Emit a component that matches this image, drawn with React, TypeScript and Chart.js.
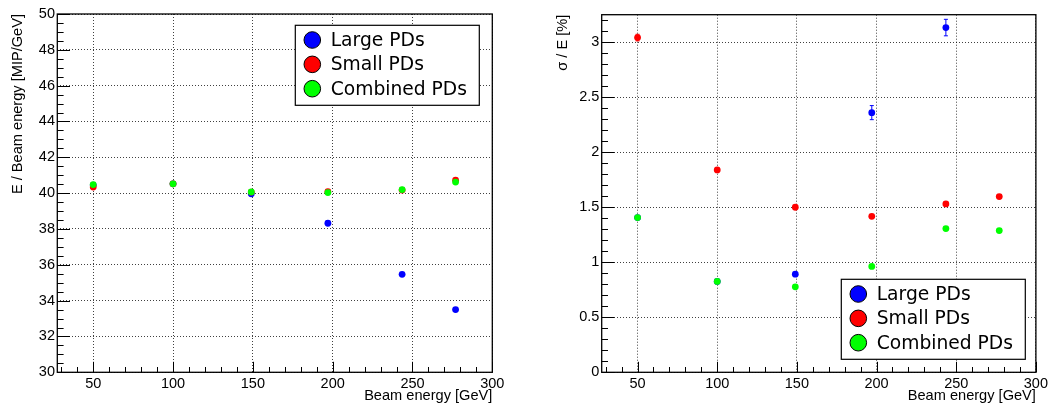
import React, { useEffect, useRef } from "react";
import { Chart, registerables } from "chart.js";

Chart.register(...registerables);

// ---------------- data ----------------
const beamEnergy = [50, 100, 149, 197, 243.5, 277];
const seriesLabels = ["Large PDs", "Small PDs", "Combined PDs"];
const seriesColors = ["#0000ff", "#ff0000", "#00ff00"];

// E / Beam energy [MIP/GeV]
const responseLarge = [40.45, 40.52, 39.96, 38.32, 35.47, 33.5];
const responseSmall = [40.34, 40.52, 40.06, 40.08, 40.17, 40.72];
const responseCombined = [40.48, 40.52, 40.07, 40.03, 40.2, 40.62];

// sigma / E [%]
const resolutionLarge = [1.406, 0.826, 0.892, 2.36, 3.133, null];
const resolutionLargeErr = [0, 0, 0.015, 0.064, 0.075, 0];
const resolutionSmall = [3.042, 1.839, 1.5, 1.418, 1.53, 1.597];
const resolutionSmallErr = [0.03, 0.012, 0.01, 0.01, 0.01, 0.01];
const resolutionCombined = [1.406, 0.826, 0.777, 0.962, 1.306, 1.288];
const resolutionCombinedErr = [0.01, 0.008, 0.008, 0.008, 0.008, 0.008];

const xTicks = [50, 100, 150, 200, 250, 300];
const responseTicks = [30, 32, 34, 36, 38, 40, 42, 44, 46, 48, 50];
const resolutionTicks = [0, 0.5, 1, 1.5, 2, 2.5, 3];

// ---------------- styling ----------------
const AXIS_FONT = "'Liberation Sans', Arial, sans-serif";
const LEGEND_FONT = "'DejaVu Sans', sans-serif";
const GRID_COLOR = "rgba(0,0,0,0.75)";

function points(xs: number[], ys: (number | null)[]) {
  const out: { x: number; y: number }[] = [];
  xs.forEach((x, i) => {
    const y = ys[i];
    if (y !== null && y !== undefined) out.push({ x, y });
  });
  return out;
}

const rootAxesPlugin = {
  id: "rootAxes",
  afterDraw(chart: any, _args: any, opts: any) {
    const { ctx, chartArea: a, scales } = chart;
    const xs = scales.x;
    const ys = scales.y;
    ctx.save();
    ctx.strokeStyle = "#000";
    ctx.lineWidth = 1;
    ctx.setLineDash([]);
    ctx.beginPath();
    // x ticks (inside)
    for (let i = 0; ; i++) {
      const v = opts.xStart + i * opts.xMinor;
      if (v > xs.max + 1e-9) break;
      if (v < xs.min - 1e-9) continue;
      const major = Math.abs(v / opts.xMajor - Math.round(v / opts.xMajor)) < 1e-6;
      const len = major ? opts.xMajorLen : opts.xMinorLen;
      const px = Math.round(xs.getPixelForValue(v)) + 0.5;
      ctx.moveTo(px, a.bottom);
      ctx.lineTo(px, a.bottom - len);
    }
    // y ticks (inside)
    for (let i = 0; ; i++) {
      const v = opts.yStart + i * opts.yMinor;
      if (v > ys.max + 1e-9) break;
      const major = Math.abs(v / opts.yMajor - Math.round(v / opts.yMajor)) < 1e-6;
      const len = major ? opts.yMajorLen : opts.yMinorLen;
      const py = Math.round(ys.getPixelForValue(v)) + 0.5;
      ctx.moveTo(a.left, py);
      ctx.lineTo(a.left + len, py);
    }
    ctx.stroke();
    // frame
    ctx.lineWidth = 1.3;
    ctx.strokeRect(a.left, a.top, a.right - a.left, a.bottom - a.top);
    ctx.restore();
  },
};

const errorBarPlugin = {
  id: "errorBars",
  afterDatasetDraw(chart: any, args: any) {
    const ds = chart.data.datasets[args.index];
    if (!ds.errors) return;
    const { ctx, scales } = chart;
    ctx.save();
    ctx.strokeStyle = ds.backgroundColor;
    ctx.lineWidth = 1;
    ctx.beginPath();
    ds.data.forEach((p: any, i: number) => {
      const err = ds.errors[i];
      if (!err) return;
      const px = scales.x.getPixelForValue(p.x);
      const y1 = scales.y.getPixelForValue(p.y + err);
      const y2 = scales.y.getPixelForValue(p.y - err);
      ctx.moveTo(px, y1);
      ctx.lineTo(px, y2);
      ctx.moveTo(px - 2, y1);
      ctx.lineTo(px + 2, y1);
      ctx.moveTo(px - 2, y2);
      ctx.lineTo(px + 2, y2);
    });
    ctx.stroke();
    ctx.restore();
  },
};

const boxLegendPlugin = {
  id: "boxLegend",
  afterDraw(chart: any, _args: any, opts: any) {
    const { ctx } = chart;
    const { left, top, width, height } = opts;
    ctx.save();
    ctx.fillStyle = "#fff";
    ctx.fillRect(left, top, width, height);
    ctx.strokeStyle = "#000";
    ctx.lineWidth = 1.2;
    ctx.strokeRect(left, top, width, height);
    ctx.font = `18.7px ${LEGEND_FONT}`;
    ctx.textBaseline = "middle";
    ctx.textAlign = "left";
    chart.data.datasets.forEach((ds: any, i: number) => {
      const cy = top + 14.7 + i * 24.35;
      ctx.beginPath();
      ctx.arc(left + 17, cy, 8.3, 0, Math.PI * 2);
      ctx.fillStyle = ds.backgroundColor;
      ctx.fill();
      ctx.lineWidth = 1;
      ctx.strokeStyle = "#000";
      ctx.stroke();
      ctx.fillStyle = "#000";
      ctx.fillText(ds.label, left + 35.4, cy + 1);
    });
    ctx.restore();
  },
};

function buildConfig(cfg: any) {
  const tickFont = { family: AXIS_FONT, size: 14.5 };
  const titleFont = { family: AXIS_FONT, size: 14.6 };
  const datasets = cfg.series.map((s: any, i: number) => ({
    label: seriesLabels[i],
    data: points(beamEnergy, s.values),
    errors: s.errors,
    backgroundColor: seriesColors[i],
    borderColor: seriesColors[i],
    pointRadius: 3.4,
    pointBorderWidth: 0,
    showLine: false,
    order: 3 - i,
  }));
  return {
    type: "scatter",
    data: { datasets },
    plugins: [rootAxesPlugin, errorBarPlugin, boxLegendPlugin],
    options: {
      animation: false,
      responsive: true,
      maintainAspectRatio: false,
      events: [],
      layout: { padding: cfg.padding },
      plugins: {
        legend: { display: false },
        tooltip: { enabled: false },
        rootAxes: cfg.axes,
        boxLegend: cfg.legend,
      },
      scales: {
        x: {
          type: "linear",
          min: 27.5,
          max: 300,
          afterBuildTicks: (s: any) => {
            s.ticks = xTicks.map((v) => ({ value: v }));
          },
          afterFit: (s: any) => {
            s.height = cfg.xHeight;
          },
          grid: { color: GRID_COLOR, lineWidth: 1, drawTicks: false },
          border: { display: false, dash: [1, 2] },
          ticks: {
            font: tickFont,
            color: "#000",
            padding: 3,
            maxRotation: 0,
            autoSkip: false,
            callback: (v: any) => String(v),
          },
          title: {
            display: true,
            text: "Beam energy [GeV]",
            align: "end",
            font: titleFont,
            color: "#000",
            padding: { top: 0, bottom: 2.3 },
          },
        },
        y: {
          type: "linear",
          min: cfg.yMin,
          max: cfg.yMax,
          afterBuildTicks: (s: any) => {
            s.ticks = cfg.yTicks.map((v: number) => ({ value: v }));
          },
          afterFit: (s: any) => {
            s.width = cfg.yWidth;
          },
          grid: { color: GRID_COLOR, lineWidth: 1, drawTicks: false },
          border: { display: false, dash: [1, 2] },
          ticks: {
            font: tickFont,
            color: "#000",
            padding: 2.3,
            autoSkip: false,
            callback: (v: any) => String(v),
          },
          title: {
            display: true,
            text: cfg.yTitle,
            align: "end",
            font: titleFont,
            color: "#000",
            padding: { top: cfg.yTitlePad, bottom: 0 },
          },
        },
      },
    },
  };
}

export default function App() {
  const leftRef = useRef<HTMLCanvasElement | null>(null);
  const rightRef = useRef<HTMLCanvasElement | null>(null);

  useEffect(() => {
    const left = new Chart(
      leftRef.current as HTMLCanvasElement,
      buildConfig({
        series: [
          { values: responseLarge },
          { values: responseSmall },
          { values: responseCombined },
        ],
        padding: { left: 0, top: 14, right: 33.7, bottom: 0 },
        xHeight: 34.7,
        yWidth: 57.3,
        yMin: 30,
        yMax: 50,
        yTicks: responseTicks,
        yTitle: "E / Beam energy [MIP/GeV]",
        yTitlePad: 9.6,
        axes: {
          xStart: 30, xMinor: 10, xMajor: 50, xMajorLen: 10.5, xMinorLen: 5.3,
          yStart: 30, yMinor: 0.5, yMajor: 2, yMajorLen: 12.7, yMinorLen: 6.3,
        },
        legend: { left: 295.3, top: 25.3, width: 184, height: 80 },
      }) as any
    );
    const right = new Chart(
      rightRef.current as HTMLCanvasElement,
      buildConfig({
        series: [
          { values: resolutionLarge, errors: resolutionLargeErr },
          { values: resolutionSmall, errors: resolutionSmallErr },
          { values: resolutionCombined, errors: resolutionCombinedErr },
        ],
        padding: { left: 0, top: 14.7, right: 14, bottom: 0 },
        xHeight: 34.7,
        yWidth: 75.7,
        yMin: 0,
        yMax: 3.25,
        yTicks: resolutionTicks,
        yTitle: "σ / E [%]",
        yTitlePad: 28.6,
        axes: {
          xStart: 30, xMinor: 10, xMajor: 50, xMajorLen: 10.5, xMinorLen: 5.3,
          yStart: 0, yMinor: 0.1, yMajor: 0.5, yMajorLen: 12.7, yMinorLen: 6.3,
        },
        legend: { left: 315.3, top: 279.3, width: 184, height: 80 },
      }) as any
    );
    return () => {
      left.destroy();
      right.destroy();
    };
  }, []);

  return (
    <div
      style={{
        position: "fixed",
        left: 0,
        top: 0,
        width: 1051,
        height: 407,
        background: "#fff",
      }}
    >
      <div style={{ position: "absolute", left: 0, top: 0, width: 526, height: 407 }}>
        <canvas ref={leftRef} />
      </div>
      <div style={{ position: "absolute", left: 526, top: 0, width: 525, height: 407 }}>
        <canvas ref={rightRef} />
      </div>
    </div>
  );
}
